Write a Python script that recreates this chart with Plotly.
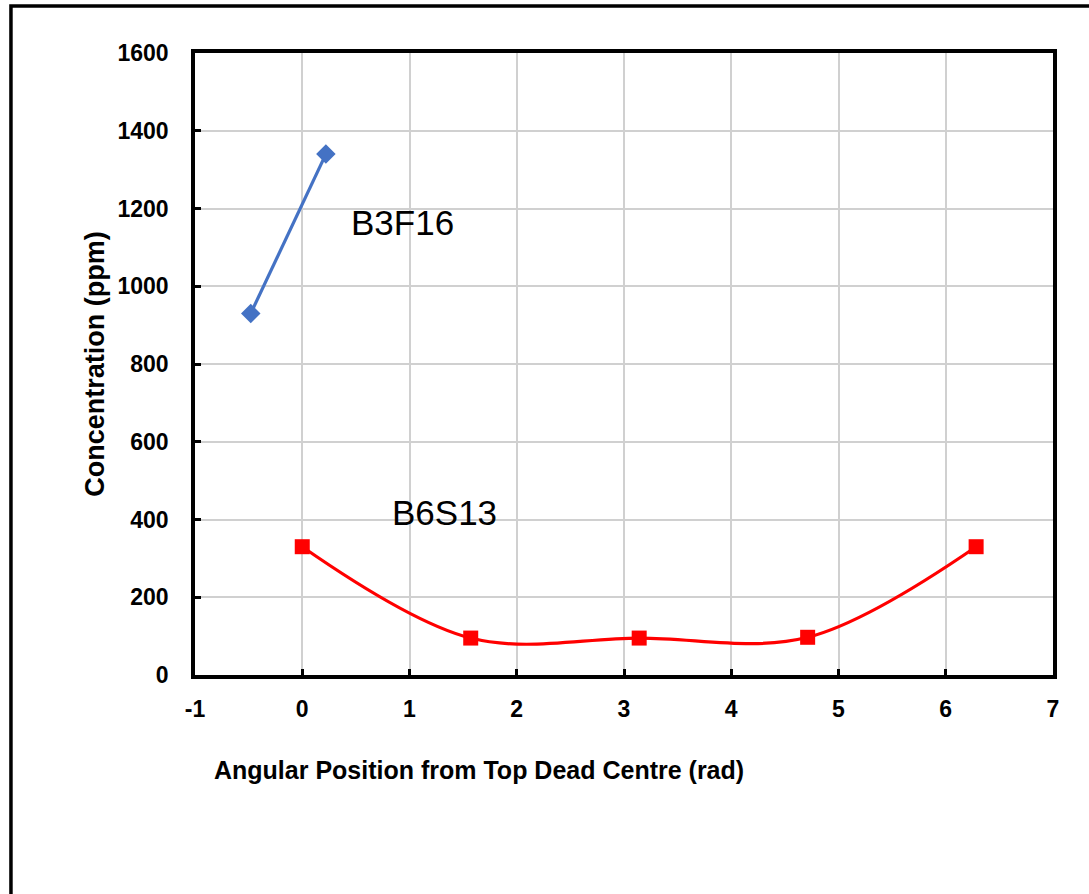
import plotly.graph_objects as go

# Data
b3f16_x = [-0.48, 0.22]
b3f16_y = [930, 1340]
b6s13_x = [0, 1.5708, 3.1416, 4.7124, 6.2832]
b6s13_y = [330, 95, 95, 97, 330]

x_ticks = [-1, 0, 1, 2, 3, 4, 5, 6, 7]
y_ticks = [0, 200, 400, 600, 800, 1000, 1200, 1400, 1600]

fig = go.Figure()
fig.add_trace(go.Scatter(
    x=b3f16_x, y=b3f16_y, mode="lines+markers", name="B3F16",
    line=dict(color="#4472C4", width=3.2, shape="spline"),
    marker=dict(symbol="diamond", size=15, color="#4472C4"),
))
fig.add_trace(go.Scatter(
    x=b6s13_x, y=b6s13_y, mode="lines+markers", name="B6S13",
    line=dict(color="#FF0000", width=3.2, shape="spline", smoothing=1),
    marker=dict(symbol="square", size=15, color="#FF0000"),
))

fig.add_annotation(x=0.44, y=1165, xref="x", yref="y", text="B3F16", showarrow=False,
                   xanchor="left", yanchor="middle",
                   font=dict(family="Liberation Sans, Arial", size=35, color="black"))
fig.add_annotation(x=0.82, y=419, xref="x", yref="y", text="B6S13", showarrow=False,
                   xanchor="left", yanchor="middle",
                   font=dict(family="Liberation Sans, Arial", size=35, color="black"))

tickfont = dict(family="Liberation Sans, Arial", size=23, color="black", weight="bold")
titlefont = dict(family="Liberation Sans, Arial", size=25, color="black", weight="bold")

# X axis title (offset left of the plot centre, as in the reference)
fig.add_annotation(x=0.331, y=-0.1527, xref="paper", yref="paper",
                   text="Angular Position from Top Dead Centre (rad)", showarrow=False,
                   xanchor="center", yanchor="middle", font=titlefont)

# Outer frame
fig.add_shape(type="rect", xref="paper", yref="paper",
              x0=-0.2145, x1=1.3, y0=-0.5, y1=1.0756,
              line=dict(color="black", width=3.5), fillcolor="rgba(0,0,0,0)", layer="below")

fig.update_xaxes(range=[-1, 7], tickvals=x_ticks, ticktext=[str(v) for v in x_ticks],
                 showgrid=True, gridcolor="#d0d0d0", gridwidth=1.5,
                 showline=True, linecolor="black", linewidth=3.5, mirror=True,
                 ticks="inside", ticklen=6, tickwidth=3, tickcolor="black",
                 tickfont=tickfont, ticklabelstandoff=11, zeroline=False)
fig.update_yaxes(range=[0, 1600], tickvals=y_ticks, ticktext=[str(v) for v in y_ticks],
                 showgrid=True, gridcolor="#d0d0d0", gridwidth=1.5,
                 showline=True, linecolor="black", linewidth=3.5, mirror=True,
                 ticks="inside", ticklen=6, tickwidth=3, tickcolor="black",
                 tickfont=tickfont, ticklabelstandoff=18, zeroline=False,
                 title=dict(text="Concentration (ppm)",
                            font=dict(family="Liberation Sans, Arial", size=27, color="black", weight="bold"),
                            standoff=6))

fig.update_layout(
    width=1089, height=894,
    margin=dict(l=195, r=36, t=53, b=219, autoexpand=False),
    plot_bgcolor="white", paper_bgcolor="white",
    showlegend=False,
)

fig.write_html("out.html", config={"displayModeBar": False},
               post_script="document.body.style.margin='0';document.body.style.padding='0';")
